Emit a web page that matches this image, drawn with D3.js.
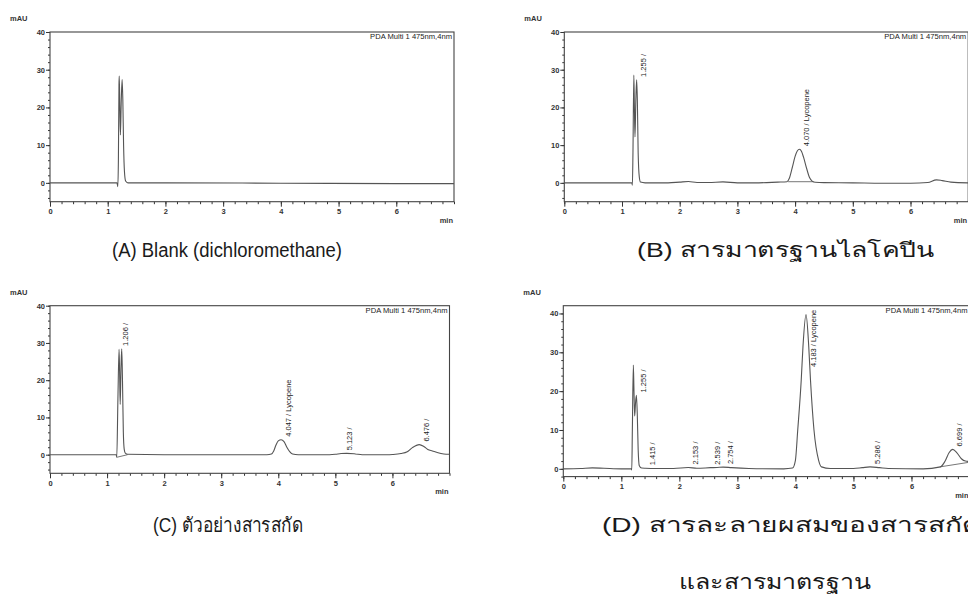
<!DOCTYPE html>
<html>
<head>
<meta charset="utf-8">
<script src="https://cdn.jsdelivr.net/npm/d3@7"></script>
<style>
body { margin: 0; background: #fff; }
svg { display: block; font-family: "Liberation Sans", Arial, sans-serif; }
</style>
</head>
<body>
<script>
// ---- data (time in min, signal in mAU) ----
const xTicks = [0, 1, 2, 3, 4, 5, 6];
const yTicks = [0, 10, 20, 30, 40];
const channel = "PDA Multi 1 475nm,4nm";

// (A) blank
const traceA = [[0,0],[0.5,0],[1.0,0],[1.16,0],[1.175,-1.0],[1.185,6],[1.195,26],[1.2,28.3],[1.21,20],[1.22,12.7],
  [1.235,22],[1.25,27.4],[1.262,22],[1.275,10],[1.29,3],[1.31,0.5],[1.35,0],[2,0],[4,-0.1],[6,-0.2],[7,-0.2]];

// (B) lycopene standard
const traceB = [[0,0],[0.5,0],[1.0,0],[1.17,0],[1.18,-0.6],[1.19,8],[1.205,28.6],[1.215,20],[1.225,12.2],[1.24,22],
  [1.254,27.3],[1.266,22],[1.28,8],[1.3,1.5],[1.32,0.2],[1.4,0],[1.8,0],[2.0,0.2],[2.15,0.35],[2.3,0.1],[2.5,0.1],
  [2.75,0.25],[3.0,0],[3.3,0],[3.7,0.2],[3.86,0.3],[3.9,1.2],[3.95,4],[4.0,7],[4.04,8.5],[4.075,8.9],[4.11,8.4],
  [4.15,6.6],[4.2,3.8],[4.25,1.4],[4.3,0.4],[4.35,0.15],[4.5,0.05],[5,0],[5.5,-0.1],[6.0,-0.1],[6.3,0.1],[6.45,0.8],
  [6.55,0.6],[6.7,0.2],[7,0]];
const baseB = [[[3.88,0.3],[4.32,0.3]]];
const peaksB = [{rt: 1.255, h: 27.3, name: ""}, {rt: 4.070, h: 8.9, name: "Lycopene"}];

// (C) extract sample
const traceC = [[0,0],[0.5,0],[1.0,0],[1.16,0],[1.17,-0.7],[1.19,15],[1.21,28.3],[1.22,22],[1.23,13.5],[1.245,24],
  [1.257,28.4],[1.27,20],[1.285,6],[1.3,1.5],[1.32,0.4],[1.36,0.1],[2,0],[3,0],[3.8,0],[3.88,0.2],[3.92,1],
  [3.96,2.6],[4.0,3.7],[4.05,4.0],[4.1,3.5],[4.15,2],[4.2,0.8],[4.25,0.2],[4.35,0],[4.9,0],[5.0,0.1],[5.1,0.3],
  [5.2,0.35],[5.35,0.2],[5.47,0],[5.9,0],[6.0,0.05],[6.15,0.3],[6.26,0.8],[6.35,1.9],[6.47,2.7],[6.55,2.2],
  [6.62,1.4],[6.7,1.0],[6.8,0.5],[6.9,0.2],[7,0.1]];
const baseC = [[[1.17,-0.7],[1.36,0]]];
const peaksC = [{rt: 1.206, h: 28.4, name: ""}, {rt: 4.047, h: 4.0, name: "Lycopene"},
  {rt: 5.123, h: 0.35, name: ""}, {rt: 6.476, h: 2.7, name: ""}];

// (D) extract + standard
const traceD = [[0,0],[0.3,0.1],[0.5,0.25],[0.7,0.15],[1.0,0],[1.17,0],[1.18,-0.3],[1.19,10],[1.207,26.7],[1.218,20],
  [1.23,13.6],[1.245,17],[1.26,18.9],[1.275,14],[1.29,5],[1.31,0.8],[1.35,0.2],[1.415,0.15],[1.6,0.1],[1.9,0.1],
  [2.153,0.35],[2.3,0.15],[2.539,0.3],[2.65,0.35],[2.754,0.45],[2.9,0.3],[3.2,0.1],[3.8,0],[3.95,0.2],[4.0,2.2],
  [4.04,10],[4.1,22.8],[4.13,31.4],[4.183,39.7],[4.23,31.4],[4.26,22.8],[4.32,10],[4.4,2.2],[4.45,0.5],[4.6,0.1],
  [5.0,0.1],[5.15,0.3],[5.286,0.5],[5.45,0.3],[5.6,0.1],[6.2,0],[6.5,0.5],[6.58,2],[6.65,4.2],[6.71,5.0],
  [6.78,4.2],[6.86,2.6],[6.93,2.0],[7,1.9]];
const baseD = [[[6.49,0.5],[7.0,1.7]]];
const peaksD = [{rt: 1.255, h: 18.9, name: ""}, {rt: 1.415, h: 0.15, name: ""}, {rt: 2.153, h: 0.35, name: ""},
  {rt: 2.539, h: 0.3, name: ""}, {rt: 2.754, h: 0.45, name: ""}, {rt: 4.183, h: 39.7, name: "Lycopene"},
  {rt: 5.286, h: 0.5, name: ""}, {rt: 6.699, h: 5.0, name: ""}];

const captions = ["(A) Blank (dichloromethane)", "(B) สารมาตรฐานไลโคปีน", "(C) ตัวอย่างสารสกัด",
  "(D) สารละลายผสมของสารสกัด", "และสารมาตรฐาน"];

// ---- layout ----
const W = 968, H = 608;
const svg = d3.select("body").append("svg").attr("width", W).attr("height", H);

const panels = [
  {trace: traceA, bases: [], peaks: [], left: 50, right: 454, top: 32, bottom: 201.7, yDom: [-5, 40]},
  {trace: traceB, bases: baseB, peaks: peaksB, left: 564.3, right: 968.2, top: 32, bottom: 201.7, yDom: [-5, 40]},
  {trace: traceC, bases: baseC, peaks: peaksC, left: 50, right: 449.5, top: 305.7, bottom: 473.3, yDom: [-5, 40]},
  {trace: traceD, bases: baseD, peaks: peaksD, left: 563.3, right: 969.5, top: 305.7, bottom: 476.6, yDom: [-2, 42]}
];

panels.forEach(function(p) {
  const x = d3.scaleLinear().domain([0, 7]).range([p.left, p.right]);
  const y = d3.scaleLinear().domain(p.yDom).range([p.bottom, p.top]);
  const g = svg.append("g");

  // y axis: minor every 2, major every 10
  const yMinor = d3.range(Math.ceil(p.yDom[0] / 2) * 2, 41, 2);
  g.append("g").attr("transform", "translate(" + p.left + ",0)")
    .call(d3.axisLeft(y).tickValues(yMinor).tickSize(2).tickFormat(""))
    .call(a => a.select(".domain").remove());
  g.append("g").attr("class", "tick-lab").attr("transform", "translate(" + p.left + ",0)")
    .call(d3.axisLeft(y).tickValues(yTicks).tickSize(4).tickPadding(1).tickFormat(d3.format("d")))
    .call(a => a.select(".domain").remove());

  // x axis: minor every 0.2 min
  g.append("g").attr("transform", "translate(0," + p.bottom + ")")
    .call(d3.axisBottom(x).tickValues(d3.range(0, 7.01, 0.2)).tickSize(2.5).tickFormat(""))
    .call(a => a.select(".domain").remove());
  g.append("g").attr("class", "tick-lab").attr("transform", "translate(0," + p.bottom + ")")
    .call(d3.axisBottom(x).tickValues(xTicks).tickSize(5).tickPadding(2).tickFormat(d3.format("d")))
    .call(a => a.select(".domain").remove());

  g.selectAll(".tick line").attr("stroke", "#333");
  g.selectAll(".tick-lab text").attr("font-size", 7.5).attr("font-weight", "bold").attr("fill", "#333")
    .attr("font-family", "Liberation Sans, Arial, sans-serif");

  // frame
  g.append("rect").attr("x", p.left).attr("y", p.top)
    .attr("width", p.right - p.left).attr("height", p.bottom - p.top)
    .attr("fill", "none").attr("stroke", "#444").attr("stroke-width", 1.1);

  // units
  g.append("text").attr("x", p.left - 40).attr("y", p.top - 11).attr("font-size", 7.5)
    .attr("font-weight", "bold").attr("fill", "#333").text("mAU");
  g.append("text").attr("x", p.right - 1).attr("y", p.bottom + 21).attr("text-anchor", "end")
    .attr("font-size", 7.5).attr("font-weight", "bold").attr("fill", "#333").text("min");
  g.append("text").attr("x", p.right - 2).attr("y", p.top + 7).attr("text-anchor", "end")
    .attr("font-size", 7.6).attr("fill", "#222").text(channel);

  // integration baselines
  g.selectAll(".base").data(p.bases).join("path")
    .attr("d", d3.line().x(d => x(d[0])).y(d => y(d[1])))
    .attr("fill", "none").attr("stroke", "#666").attr("stroke-width", 0.9);

  // chromatogram trace
  g.append("path").datum(p.trace)
    .attr("d", d3.line().x(d => x(d[0])).y(d => y(d[1])).curve(d3.curveMonotoneX))
    .attr("fill", "none").attr("stroke", "#555").attr("stroke-width", 1.1);

  // peak labels, rotated, starting just above the apex
  p.peaks.forEach(function(pk) {
    const label = pk.rt.toFixed(3) + " / " + pk.name;
    const t = g.append("text").attr("font-size", 7.5).attr("fill", "#222").attr("dy", "0.35em").text(label.trim());
    const len = t.node().getComputedTextLength();
    let y0 = y(pk.h) - 3;
    if (y0 - len < p.top + 4) y0 = p.top + 4 + len;
    t.attr("transform", "translate(" + (x(pk.rt) + 7) + "," + y0 + ") rotate(-90)");
  });
});

// ---- captions (left edge, baseline, width as in the page) ----
const capPos = [[112, 257, 230], [637, 257, 298], [153, 532, 150], [602, 532, 378], [679, 589, 192]];
svg.selectAll(".cap").data(captions).join("text")
  .attr("class", "cap")
  .attr("x", (d, i) => capPos[i][0]).attr("y", (d, i) => capPos[i][1])
  .attr("textLength", (d, i) => capPos[i][2]).attr("lengthAdjust", "spacingAndGlyphs")
  .attr("font-size", 20).attr("fill", "#1a1a1a")
  .text(d => d);
</script>
</body>
</html>
